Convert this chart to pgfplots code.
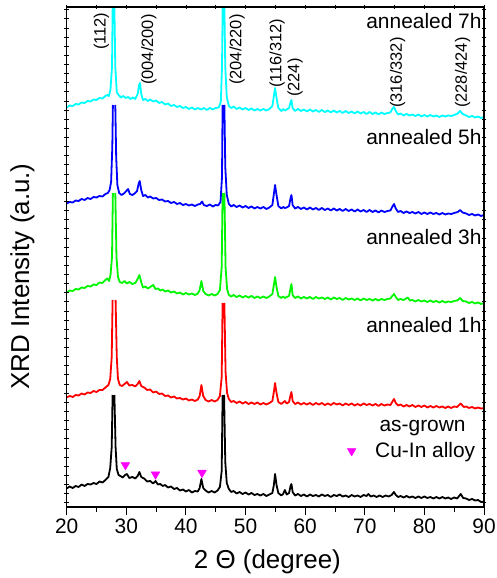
\documentclass[border=0pt]{standalone}
\usepackage{pgfplots}
\pgfplotsset{compat=1.18}
\usepackage{fontspec}
\setmainfont{Liberation Sans}
\definecolor{cyn}{RGB}{0,255,255}
\definecolor{blu}{RGB}{0,0,255}
\definecolor{grn}{RGB}{0,245,0}
\definecolor{rd}{RGB}{255,0,0}
\definecolor{mag}{RGB}{255,0,255}
\begin{document}
\begin{tikzpicture}
\begin{axis}[
  scale only axis, width=417.3bp, height=500bp,
  xmin=20, xmax=90, ymin=0, ymax=500,
  xtick={20,30,...,90}, minor x tick num=1, xtick pos=bottom,
  tick align=outside, ytick=\empty,
  major tick length=8bp, minor tick length=5bp,
  axis line style={line width=1.1bp},
  every tick/.append style={black, line width=0.9bp},
  tick label style={font=\fontsize{21}{24}\selectfont},
  /pgf/number format/assume math mode=true,
  xlabel={2 Θ (degree)}, ylabel={XRD Intensity (a.u.)},
  every axis x label/.style={at={(rel axis cs:0.481,0)}, anchor=north, yshift=-43bp, inner sep=0pt, font=\fontsize{26}{30}\selectfont},
  every axis y label/.style={at={(rel axis cs:-0.0767,0.461)}, anchor=south, rotate=90, inner sep=0pt, font=\fontsize{26}{30}\selectfont},
  unbounded coords=jump,
  every axis plot/.append style={line width=1.8bp, line join=round},
]
\coordinate (sw) at (rel axis cs:0,0);
\coordinate (ne) at (rel axis cs:1,1);
% as-grown (black)
\addplot[black] coordinates {
(20,18.5)(20.5,20.5)(21,19)(21.5,21)(22,20)(22.5,22.5)(23,21)(23.5,23)(24,22.5)(24.5,24)(25,23)(25.5,25.5)(26,24.5)(26.5,27)(27,30)(27.3,39)(27.55,60)(27.7,112)(27.85,nan)(28.0,112)(28.2,60)(28.4,38)(28.7,32)(29.0,31)(29.4,29.5)(29.8,32)(30.1,33)(30.5,29)(31.0,30)(31.5,28.5)(31.9,31)(32.2,35)(32.5,30)(33.0,28.5)(33.5,25.5)(34.0,26)(34.5,23.5)(34.9,26)(35.3,22.5)(35.7,23)(36.1,21)(36.5,22)(37,19.5)(37.5,20.5)(38,18)(38.5,19)(39,16.5)(39.5,17.5)(40,15.5)(40.5,17)(41,14.5)(41.5,16)(42,15.5)(42.3,19)(42.6,28)(42.9,19)(43.3,16.5)(43.8,14.5)(44.3,16)(44.8,14.5)(45.3,16.5)(45.7,20)(46.0,36)(46.15,112)(46.25,nan)(46.4,112)(46.6,45)(46.85,24)(47.2,18)(47.6,15)(48,16)(48.5,13.5)(49,15)(49.5,13)(50,14.5)(50.5,12.5)(51,14)(51.5,12)(52,13)(52.5,11.5)(53,13)(53.5,11)(54,12.5)(54.5,14)(54.75,22)(54.95,33)(55.2,22)(55.5,14)(56,11.5)(56.3,13)(56.6,17)(56.9,12.5)(57.3,14)(57.55,21)(57.7,23)(57.9,15)(58.3,11.5)(58.8,13)(59.3,11)(59.8,12.5)(60.3,10.5)(60.8,12.5)(61.3,11)(61.8,12)(62.3,10.5)(62.8,12.5)(63.3,11)(63.8,12)(64.3,10)(64.8,12)(65.3,11)(65.8,12.5)(66.3,10.5)(66.8,11.5)(67.3,10)(67.8,12)(68.3,10.5)(68.8,11.5)(69.3,10)(69.8,12)(70.3,11)(70.6,13)(71,10.5)(71.5,11.5)(72,10)(72.5,11.5)(73,10)(73.5,11.5)(74,10.5)(74.5,12)(74.9,15)(75.2,12)(75.6,10)(76,11)(76.5,9.5)(77,11)(77.5,9.5)(78,10.5)(78.5,9)(79,10.5)(79.5,9)(80,10.5)(80.5,9)(81,10)(81.5,8.5)(82,10)(82.5,8.5)(83,10)(83.5,8.5)(84,9.5)(84.5,8)(85,9.5)(85.5,8.5)(86.1,13)(86.5,9)(87,8.5)(87.5,7)(88,8)(88.5,6.5)(89,7)(89.5,5)(90,5.5)
};
% annealed 1h (red)
\addplot[rd] coordinates {
(20,109.5)(20.5,111)(21,110)(21.5,112)(22,111.5)(22.5,113.5)(23,112.5)(23.5,114.5)(24,114)(24.5,116)(25,115)(25.5,117)(26,117)(26.5,119.5)(27,122)(27.3,128)(27.55,150)(27.7,207)(27.95,nan)(28.2,207)(28.4,150)(28.6,128)(28.9,122)(29.3,121)(29.7,123)(30.1,125)(30.5,121.5)(31,122)(31.5,120.5)(31.9,123)(32.2,126)(32.5,121)(33,119.5)(33.5,117)(34,117.5)(34.5,114.5)(35,115.5)(35.5,113)(36,113.5)(36.5,111)(37,111.5)(37.5,109.5)(38,110.5)(38.5,108.5)(39,109)(39.5,107.5)(40,108.5)(40.5,106.5)(41,107.5)(41.5,106)(42,107.5)(42.3,111)(42.6,122)(42.9,111)(43.3,107)(43.8,105.5)(44.3,107)(44.8,105.5)(45.3,107)(45.7,111)(46.0,130)(46.15,204)(46.3,nan)(46.45,204)(46.65,135)(46.9,114)(47.2,108)(47.6,105)(48,106)(48.5,104)(49,105.5)(49.5,103.5)(50,105)(50.5,103)(51,104.5)(51.5,103)(52,104.5)(52.5,102.5)(53,104)(53.5,102.5)(54,104)(54.5,106)(54.75,115)(54.95,124)(55.2,114)(55.5,105)(56,103)(56.3,104.5)(56.6,106)(56.9,103.5)(57.3,105)(57.55,112)(57.7,115)(57.9,106)(58.3,103)(58.8,104.5)(59.3,102.5)(59.8,104)(60.3,102.5)(60.8,104)(61.3,102)(61.8,104)(62.3,102.5)(62.8,104)(63.3,102)(63.8,103.5)(64.3,102)(64.8,104)(65.3,102.5)(65.8,103.5)(66.3,101.5)(66.8,103.5)(67.3,102)(67.8,103.5)(68.3,101.5)(68.8,103)(69.3,101.5)(69.8,103.5)(70.3,102)(70.8,103)(71.3,101.5)(71.8,103)(72.3,101)(72.8,103)(73.3,101.5)(73.8,102.5)(74.3,102)(74.6,105)(74.9,108)(75.2,104)(75.6,101.5)(76,102.5)(76.5,100.5)(77,102)(77.5,100.5)(78,102)(78.5,100)(79,101.5)(79.5,100)(80,101.5)(80.5,99.5)(81,101)(81.5,99.5)(82,101)(82.5,99.5)(83,100.5)(83.5,99)(84,100.5)(84.5,99)(85,100.5)(85.5,100)(86.1,103.5)(86.6,100)(87,100.5)(87.5,99)(88,100)(88.5,98.5)(89,99.5)(89.5,98.5)(90,99)
};
% annealed 3h (green)
\addplot[grn] coordinates {
(20,214.5)(20.5,216.5)(21,216)(21.5,218)(22,217.5)(22.5,219.5)(23,219)(23.5,221)(24,220.5)(24.5,222.5)(25,222)(25.5,224.5)(26,224)(26.5,227)(26.8,228.5)(27.1,226)(27.35,232)(27.6,250)(27.75,314)(27.95,nan)(28.15,314)(28.35,250)(28.6,230)(28.9,225)(29.3,224)(29.7,226)(30.1,223.5)(30.5,225)(31,223)(31.5,224)(31.9,228)(32.2,232)(32.5,225)(32.8,219.5)(33.2,220.5)(33.6,218.5)(34.0,220)(34.5,222)(34.9,218)(35.3,218.5)(35.7,216.5)(36.1,217.5)(36.5,215.5)(37,216.5)(37.5,214.5)(38,215.5)(38.5,213.5)(39,214.5)(39.5,212.5)(40,214)(40.5,212.5)(41,213.5)(41.5,212)(42,213.5)(42.3,217)(42.6,226)(42.9,216)(43.3,213)(43.8,211.5)(44.3,213)(44.8,211.5)(45.3,213)(45.7,217)(46.0,240)(46.15,314)(46.3,nan)(46.45,314)(46.65,240)(46.9,218)(47.2,212)(47.6,210.5)(48,212)(48.5,210)(49,211.5)(49.5,209.5)(50,211)(50.5,209.5)(51,211)(51.5,209)(52,210.5)(52.5,209)(53,210.5)(53.5,209)(54,210.5)(54.5,213)(54.75,222)(54.95,230)(55.2,220)(55.5,211)(56,209)(56.3,210.5)(56.6,209)(56.9,210)(57.3,211)(57.55,219)(57.7,223)(57.9,212)(58.3,209)(58.8,210.5)(59.3,208.5)(59.8,210)(60.3,208.5)(60.8,210)(61.3,208)(61.8,210)(62.3,208.5)(62.8,209.5)(63.3,208)(63.8,209.5)(64.3,207.5)(64.8,209.5)(65.3,208)(65.8,209)(66.3,207)(66.8,209)(67.3,207.5)(67.8,208.5)(68.3,207)(68.8,208.5)(69.3,206.5)(69.8,208.5)(70.3,207)(70.8,208)(71.3,206.5)(71.8,208)(72.3,206.5)(72.8,208)(73.3,207)(73.8,208)(74.3,208.5)(74.6,211)(74.9,213)(75.2,210)(75.6,207)(76,208)(76.5,207)(77.2,209.5)(77.6,206.5)(78,207)(78.5,205.5)(79,207)(79.5,205.5)(80,206.5)(80.5,205)(81,206.5)(81.5,205)(82,206)(82.5,204.5)(83,206)(83.5,204.5)(84,205.5)(84.5,205)(85,206)(85.5,206.5)(86,209)(86.4,206)(87,205.5)(87.5,204)(88,205)(88.5,203.5)(89,204.5)(89.5,203)(90,204)
};
% annealed 5h (blue)
\addplot[blu] coordinates {
(20,303.5)(20.5,305)(21,304.5)(21.5,306.5)(22,306)(22.5,308)(23,307)(23.5,309)(24,308)(24.5,310)(25,309.5)(25.5,311)(26,310.5)(26.5,313)(26.9,314)(27.2,317)(27.45,325)(27.65,360)(27.75,402)(27.95,nan)(28.15,402)(28.3,350)(28.5,322)(28.8,314)(29.2,312)(29.6,313.5)(30.0,316)(30.3,318)(30.6,313)(31.0,312)(31.4,313.5)(31.8,316)(32.1,324)(32.25,326)(32.5,317)(32.8,311)(33.2,312)(33.6,309.5)(34,310.5)(34.5,308.5)(35,309)(35.5,307)(36,307.5)(36.5,305.5)(37,306)(37.5,304)(38,305)(38.5,303)(39,304)(39.5,302)(40,303)(40.5,301.5)(41,302.5)(41.5,301)(42,302.5)(42.4,303)(42.7,305.5)(43,302)(43.5,301)(44,302.5)(44.5,300.5)(45,302)(45.4,301.5)(45.8,305)(46.05,330)(46.15,402)(46.3,nan)(46.45,402)(46.6,340)(46.85,312)(47.2,303)(47.6,300.5)(48,302)(48.5,300)(49,301.5)(49.5,299.5)(50,301)(50.5,299)(51,300.5)(51.5,298.5)(52,300)(52.5,298.5)(53,300)(53.5,298)(54,299.5)(54.5,302)(54.75,313)(54.95,322)(55.2,312)(55.5,301)(56,298.5)(56.3,300)(56.6,299)(56.9,299.5)(57.3,301)(57.55,309)(57.7,312)(57.9,302)(58.3,298.5)(58.8,300)(59.3,298)(59.8,299.5)(60.3,297.5)(60.8,299.5)(61.3,297.5)(61.8,299)(62.3,297)(62.8,299)(63.3,297)(63.8,298.5)(64.3,296.5)(64.8,298.5)(65.3,296.5)(65.8,298)(66.3,296)(66.8,298)(67.3,296)(67.8,297.5)(68.3,295.5)(68.8,297.5)(69.3,295.5)(69.8,297)(70.3,295)(70.8,297)(71.3,295)(71.8,296.5)(72.3,294.5)(72.8,296.5)(73.3,295)(73.8,296)(74.3,296.5)(74.6,300)(74.9,303)(75.2,298.5)(75.6,295)(76,296)(76.5,294)(77,295.5)(77.5,294)(78,295)(78.5,293.5)(79,295)(79.5,293)(80,294.5)(80.5,293)(81,294.5)(81.5,293)(82,294)(82.5,292.5)(83,294)(83.5,292.5)(84,293.5)(84.5,293)(85,294)(85.6,295)(86,297)(86.4,294.5)(87,293.5)(87.5,292)(88,293)(88.5,291.5)(89,292.5)(89.5,291)(90,292)
};
% annealed 7h (cyan)
\addplot[cyn] coordinates {
(20,399.5)(20.5,401.5)(21,401)(21.5,403)(22,402.5)(22.5,404.5)(23,404)(23.5,406)(24,405.5)(24.5,407.5)(25,407)(25.5,409)(26,408.5)(26.5,411)(26.8,412)(27.1,411)(27.35,418)(27.6,440)(27.75,520)(27.95,520)(28.15,440)(28.4,415)(28.7,412)(29.1,409.5)(29.5,411)(29.9,409)(30.3,410)(30.7,408)(31.1,409.5)(31.5,408)(31.9,413)(32.15,422)(32.3,424)(32.5,413)(32.8,407)(33.2,408)(33.6,406)(34,407.5)(34.5,405.5)(35,406.5)(35.5,404)(36,405)(36.5,402.5)(37,403.5)(37.5,401)(38,402)(38.5,400)(39,401)(39.5,399)(40,400)(40.5,398)(41,399.5)(41.5,397.5)(42,399)(42.5,397.5)(43,399)(43.5,397)(44,399)(44.5,397.5)(45,399)(45.5,399.5)(45.85,405)(46.05,440)(46.2,520)(46.4,520)(46.6,440)(46.85,410)(47.2,401)(47.6,399)(48,400.5)(48.5,398)(49,399.5)(49.5,397.5)(50,399)(50.5,397)(51,398.5)(51.5,396.5)(52,398)(52.5,396.5)(53,398)(53.5,396.5)(54,398)(54.5,401)(54.75,411)(54.95,419)(55.2,409)(55.5,399)(56,396)(56.3,398)(56.6,396.5)(56.9,397.5)(57.3,399)(57.55,405)(57.7,407)(57.9,399)(58.3,396)(58.8,398)(59.3,396)(59.8,397.5)(60.3,395.5)(60.8,397.5)(61.3,395.5)(61.8,397)(62.3,395)(62.8,397)(63.3,395)(63.8,396.5)(64.3,394.5)(64.8,396.5)(65.3,394.5)(65.8,396)(66.3,394)(66.8,396)(67.3,394)(67.8,395.5)(68.3,393.5)(68.8,395.5)(69.3,393.5)(69.8,395)(70.3,393)(70.8,395)(71.3,393)(71.8,394.5)(72.3,392.5)(72.8,394.5)(73.3,393)(73.8,394)(74.3,394.5)(74.6,398)(74.9,400)(75.2,396)(75.6,392.5)(76,393.5)(76.5,391.5)(77,393)(77.5,391.5)(78,392.5)(78.5,391)(79,392.5)(79.5,390.5)(80,392)(80.5,390.5)(81,392)(81.5,390.5)(82,391.5)(82.5,390)(83,391.5)(83.5,390.5)(84,391.5)(84.5,391)(85,392)(85.6,393.5)(86,396)(86.4,393)(87,391.5)(87.5,390)(88,391)(88.5,389.5)(89,390.5)(89.5,389)(90,390)
};
% Cu-In alloy markers
\addplot[only marks, mark=triangle*, mark size=5pt, color=mag, mark options={rotate=180, line width=0.5pt}] coordinates {(29.85,42)(34.9,32.7)(42.7,34.3)(67.8,56)};
% peak labels
\begin{scope}[every node/.style={rotate=90, anchor=west, inner sep=0pt, font=\fontsize{16.5}{18}\selectfont}]
\node at (axis cs:25.8,457) {(112)};
\node at (axis cs:33.8,422) {(004/200)};
\node at (axis cs:48.6,422) {(204/220)};
\node at (axis cs:55.3,419) {(116/312)};
\node at (axis cs:58.3,410) {(224)};
\node at (axis cs:75.5,399) {(316/332)};
\node at (axis cs:86.4,399) {(228/424)};
\end{scope}
\begin{scope}[every node/.style={inner sep=0pt, font=\fontsize{21}{24}\selectfont}]
\node[anchor=base east] at (axis cs:89.62,478) {annealed 7h};
\node[anchor=base east] at (axis cs:89.62,362) {annealed 5h};
\node[anchor=base east] at (axis cs:89.62,262) {annealed 3h};
\node[anchor=base east] at (axis cs:89.62,174.3) {annealed 1h};
\node[anchor=base] at (axis cs:79.7,75.3) {as-grown};
\node[anchor=base west] at (axis cs:71.72,49.7) {Cu-In alloy};
\end{scope}
\end{axis}
\begin{axis}[
  scale only axis, width=417.3bp, height=500bp,
  xmin=20, xmax=90, ymin=0, ymax=500,
  xtick={20,25,...,90}, xtick pos=top,
  ytick={4.3,13.43,...,500}, ytick pos=both,
  xticklabels={}, yticklabels={},
  tick align=center, major tick length=4.5bp,
  axis line style={line width=1.1bp},
  every tick/.append style={black, line width=0.8bp},
]
\end{axis}
\pgfresetboundingbox
\path[use as bounding box] ([shift={(-66.7bp,-71bp)}]sw) rectangle ([shift={(12bp,7bp)}]ne);
\end{tikzpicture}
\end{document}
